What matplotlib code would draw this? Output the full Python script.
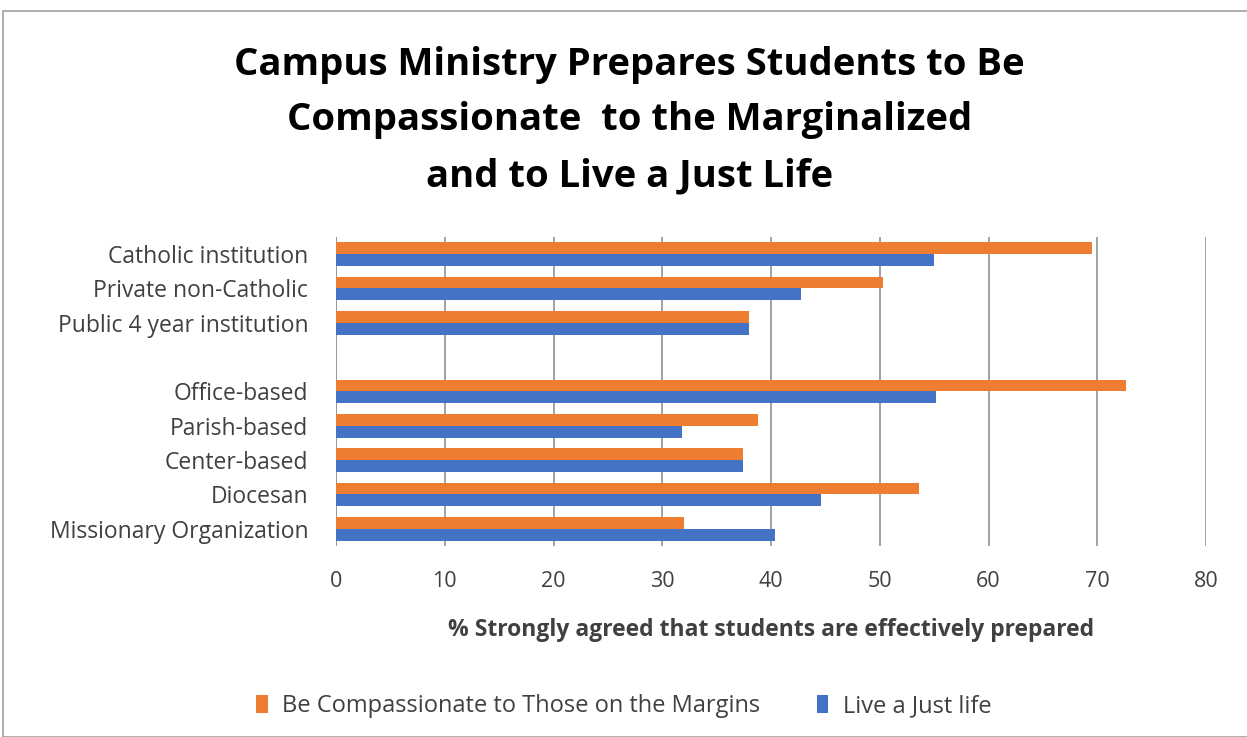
import numpy as np
import matplotlib
matplotlib.use("Agg")
import matplotlib.pyplot as plt
from matplotlib.patches import Rectangle

# categories top to bottom, "" = empty spacer slot
categories = ["Catholic institution", "Private non-Catholic", "Public 4 year institution", "",
              "Office-based", "Parish-based", "Center-based", "Diocesan", "Missionary Organization"]
compassionate = [69.5, 50.3, 38.0, np.nan, 72.6, 38.8, 37.4, 53.6, 32.0]
just_life = [55.0, 42.8, 38.0, np.nan, 55.2, 31.8, 37.4, 44.6, 40.4]
x_ticks = [0, 10, 20, 30, 40, 50, 60, 70, 80]

orange = "#ED7D31"
blue = "#4472C4"
txt = "#404040"

plt.rcParams['font.family'] = ['Open Sans', 'DejaVu Sans']

fig = plt.figure(figsize=(12.47, 7.37), dpi=100)
ax = fig.add_axes([336/1247, 1-546/737, (1206-336)/1247, (546-237)/737])

y = np.arange(len(categories))
h = 0.34
ax.barh(y - h/2, compassionate, height=h, color=orange, label="Be Compassionate to Those on the Margins", zorder=3)
ax.barh(y + h/2, just_life, height=h, color=blue, label="Live a Just life", zorder=3)

ax.set_ylim(len(categories) - 0.5, -0.5)
ax.set_xlim(0, 80)
ax.set_xticks(x_ticks)
ax.set_xticklabels([str(t) for t in x_ticks], fontsize=15.5, color=txt)
ax.set_yticks(y)
ax.set_yticklabels(categories, fontsize=16.5, color=txt)
ax.tick_params(length=0, pad=18, axis='x')
ax.tick_params(length=0, pad=20, axis='y')
ax.xaxis.grid(True, color="#9a9a9a", linewidth=1.3, zorder=0)
for s in ax.spines.values():
    s.set_visible(False)
ax.axvline(0, color="#9a9a9a", linewidth=1.3, zorder=1)

ax.set_xlabel("% Strongly agreed that students are effectively prepared",
              fontsize=16.5, fontweight='bold', color=txt, labelpad=19)

title_lines = ["Campus Ministry Prepares Students to Be",
               "Compassionate  to the Marginalized",
               "and to Live a Just Life"]
for line, ypx in zip(title_lines, [65, 120, 176]):
    fig.text(0.505, 1-ypx/737, line, ha='center', va='center',
             fontsize=27.5, fontweight='bold', color='black')

fig.legend(loc='center', bbox_to_anchor=(0.5, 1-706/737), ncol=2, frameon=False,
           fontsize=17, handlelength=0.5, handleheight=0.8, columnspacing=2.4,
           handletextpad=0.6, labelcolor=txt)

fig.patches.append(Rectangle((3/1247, 0), 1.2, 1-11/737, transform=fig.transFigure,
                             fill=False, edgecolor="#a0a0a0", linewidth=1.2))

fig.savefig("out.png", dpi=100)
